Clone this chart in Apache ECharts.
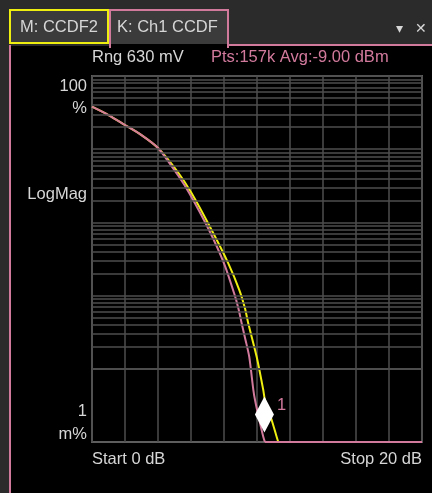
<!DOCTYPE html>
<html>
<head>
<meta charset="utf-8">
<script src="https://cdn.jsdelivr.net/npm/echarts@6/dist/echarts.min.js"></script>
<style>
html,body{margin:0;padding:0;background:#2b2b2b;}
#main{width:432px;height:493px;}
</style>
</head>
<body>
<div id="main"></div>
<script>
// ---- data ----
// M: CCDF2 (yellow) : x in dB, y in percent
const ccdf2Db  = [0, 1, 2, 3, 4, 5.2, 6.04, 7.25, 8.26, 8.93, 9.27, 9.47, 9.98, 10.38, 10.48, 10.89, 11.19, 11.29, 20];
const ccdf2Pct = [38.1, 29.3, 21.4, 15.6, 10.4, 4.88, 2.5, 0.787, 0.276, 0.119, 0.0671, 0.0419, 0.0146, 0.00513, 0.00375, 0.0020, 0.00118, 0.001, 0.001];
// K: Ch1 CCDF (pink)
const ch1Db  = [0, 1, 2, 3, 4, 5.2, 5.9, 7.09, 8.0, 8.6, 8.87, 9.07, 9.3, 9.53, 9.78, 9.88, 10.1, 10.38, 10.48, 20];
const ch1Pct = [38.1, 29.3, 21.4, 15.6, 10.4, 4.44, 2.5, 0.787, 0.276, 0.11, 0.0671, 0.0419, 0.025, 0.0146, 0.00513, 0.00375, 0.0022, 0.00118, 0.001, 0.001];
// marker 1
const marker1 = {db: 10.45, pct: 0.00238, label: '1'};
// axis
const xMin = 0, xMax = 20, xStep = 2;
const yMin = 0.001, yMax = 100;           // percent (1 m% .. 100 %)
const yTopLabels = ['100', '%'];
const yBottomLabels = ['1', 'm%'];
const yName = 'LogMag';
const startLabel = 'Start 0 dB';
const stopLabel = 'Stop 20 dB';
const rangeText = 'Rng 630 mV';
const infoText = 'Pts:157k Avg:-9.00 dBm';
const tabs = ['M: CCDF2', 'K: Ch1 CCDF'];

// ---- build ----
const zip = (a, b) => a.map((v, i) => [v, b[i]]);
// split a trace into its falling part and the floor part (values at the bottom of the scale)
function split(xs, ys) {
  const all = zip(xs, ys);
  const k = ys.indexOf(yMin);
  return {curve: all.slice(0, k + 1), floor: all.slice(k)};
}
const yel = split(ccdf2Db, ccdf2Pct);
const pnk = split(ch1Db, ch1Pct);

const gridLines = [];
for (let e = Math.log10(yMin); e < Math.log10(yMax); e++) {
  for (let k = 1; k <= 9; k++) gridLines.push({yAxis: k * Math.pow(10, e)});
}
gridLines.push({yAxis: yMax});

const YEL = '#eeee10';
const PINK = '#d27a9c';
const TXT = '#d6d6d6';
const GRID = '#4e4e4e';
const FONT = '"Liberation Sans", Arial, sans-serif';
const f = (s) => s + 'px ' + FONT;

const chart = echarts.init(document.getElementById('main'), null, {renderer: 'canvas'});
chart.setOption({
  backgroundColor: '#2b2b2b',
  animation: false,
  grid: {left: 92, top: 76, width: 330, height: 366, show: true, borderColor: '#5e5e5e', borderWidth: 2, backgroundColor: 'transparent'},
  xAxis: {
    type: 'value', min: xMin, max: xMax, interval: xStep,
    axisLine: {show: false}, axisTick: {show: false}, axisLabel: {show: false},
    splitLine: {show: true, lineStyle: {color: GRID, width: 1.5}}
  },
  yAxis: {
    type: 'log', logBase: 10, min: yMin, max: yMax,
    axisLine: {show: false}, axisTick: {show: false}, axisLabel: {show: false},
    splitLine: {show: false}
  },
  graphic: [
    {type: 'rect', z: -100, shape: {x: 11, y: 46, width: 421, height: 447}, style: {fill: '#000'}},
    {type: 'line', z: 5, shape: {x1: 10, y1: 45, x2: 10, y2: 493}, style: {stroke: PINK, lineWidth: 2}},
    {type: 'line', z: 5, shape: {x1: 228, y1: 45, x2: 432, y2: 45}, style: {stroke: PINK, lineWidth: 2}},
    {type: 'rect', z: 5, shape: {x: 10, y: 10, width: 98, height: 33}, style: {fill: '#3b3b3b', stroke: YEL, lineWidth: 2}},
    {type: 'rect', z: 4, shape: {x: 110, y: 10, width: 118, height: 37}, style: {fill: '#3b3b3b', stroke: PINK, lineWidth: 2}},
    {type: 'rect', z: 6, shape: {x: 111, y: 44, width: 116, height: 4}, style: {fill: '#000'}},
    {type: 'text', z: 10, x: 20, y: 27, style: {text: tabs[0], fill: TXT, font: f(16.5), align: 'left', verticalAlign: 'middle'}},
    {type: 'text', z: 10, x: 117, y: 27, style: {text: tabs[1], fill: TXT, font: f(16.5), align: 'left', verticalAlign: 'middle'}},
    {type: 'text', z: 10, x: 399, y: 29, style: {text: '\u25BE', fill: TXT, font: f(14), align: 'center', verticalAlign: 'middle'}},
    {type: 'text', z: 10, x: 421, y: 29, style: {text: '\u2715', fill: TXT, font: f(14), align: 'center', verticalAlign: 'middle'}},
    {type: 'text', z: 10, x: 92, y: 57, style: {text: rangeText, fill: TXT, font: f(16.5), align: 'left', verticalAlign: 'middle'}},
    {type: 'text', z: 10, x: 211, y: 57, style: {text: infoText, fill: PINK, font: f(16.5), align: 'left', verticalAlign: 'middle'}},
    {type: 'text', z: 10, x: 87, y: 86, style: {text: yTopLabels[0], fill: TXT, font: f(16.5), align: 'right', verticalAlign: 'middle'}},
    {type: 'text', z: 10, x: 87, y: 108, style: {text: yTopLabels[1], fill: TXT, font: f(16.5), align: 'right', verticalAlign: 'middle'}},
    {type: 'text', z: 10, x: 87, y: 194, style: {text: yName, fill: TXT, font: f(16.5), align: 'right', verticalAlign: 'middle'}},
    {type: 'text', z: 10, x: 87, y: 411, style: {text: yBottomLabels[0], fill: TXT, font: f(16.5), align: 'right', verticalAlign: 'middle'}},
    {type: 'text', z: 10, x: 87, y: 434, style: {text: yBottomLabels[1], fill: TXT, font: f(16.5), align: 'right', verticalAlign: 'middle'}},
    {type: 'text', z: 10, x: 92, y: 459, style: {text: startLabel, fill: TXT, font: f(16.5), align: 'left', verticalAlign: 'middle'}},
    {type: 'text', z: 10, x: 422, y: 459, style: {text: stopLabel, fill: TXT, font: f(16.5), align: 'right', verticalAlign: 'middle'}}
  ],
  series: [
    {
      type: 'line', data: [], silent: true, z: 1,
      markLine: {silent: true, symbol: 'none', animation: false,
        lineStyle: {color: GRID, width: 1.5, type: 'solid'},
        label: {show: false}, data: gridLines}
    },
    {
      name: tabs[0], type: 'line', data: yel.curve, showSymbol: false, clip: false, z: 3,
      smooth: 0.25,
      lineStyle: {color: YEL, width: 2}, itemStyle: {color: YEL},
      markPoint: {
        symbol: 'diamond', symbolSize: [19, 36], silent: true, animation: false,
        itemStyle: {color: '#ffffff'},
        label: {show: true, formatter: marker1.label, position: 'right', distance: 3, offset: [0, -9], color: PINK, fontSize: 16.5, fontFamily: FONT},
        data: [{coord: [marker1.db, marker1.pct]}]
      }
    },
    {
      type: 'line', data: yel.floor, showSymbol: false, clip: false, z: 3,
      lineStyle: {color: YEL, width: 2}
    },
    {
      name: tabs[1], type: 'line', data: pnk.curve, showSymbol: false, clip: false, z: 4,
      smooth: 0.25,
      lineStyle: {color: PINK, width: 2}, itemStyle: {color: PINK}
    },
    {
      type: 'line', data: pnk.floor, showSymbol: false, clip: false, z: 4,
      lineStyle: {color: PINK, width: 2}
    }
  ]
});
</script>
</body>
</html>
